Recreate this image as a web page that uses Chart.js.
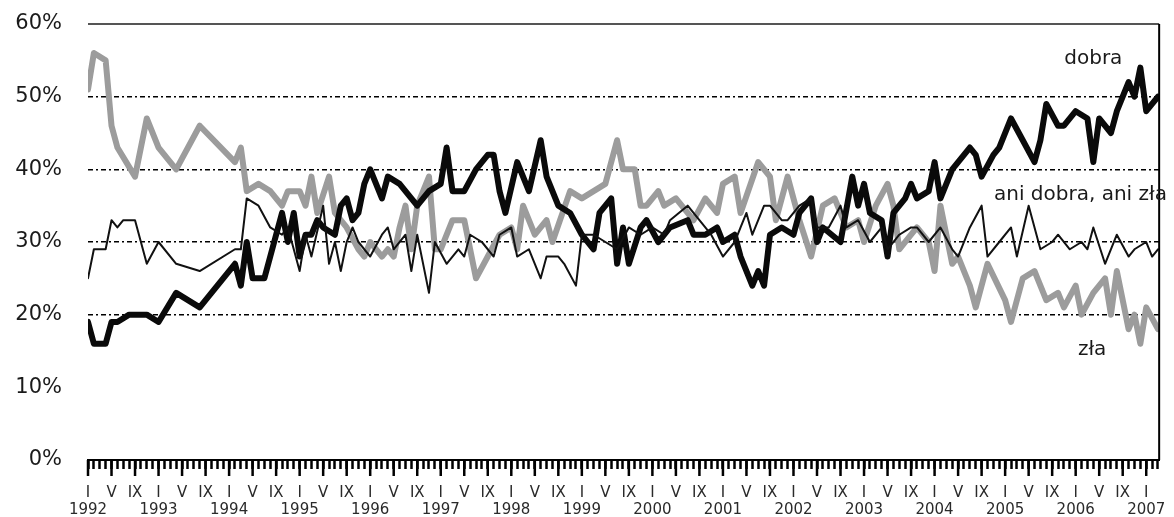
<!DOCTYPE html>
<html>
<head>
<meta charset="utf-8">
<script src="https://cdn.jsdelivr.net/npm/chart.js@4.4.1/dist/chart.umd.min.js"></script>
<style>
  html, body { margin: 0; padding: 0; background: #fff; }
  canvas { display: block; }
</style>
</head>
<body>
<canvas id="chart" width="1174" height="517"></canvas>
<script>
/* ── Data: [month index from I 1992, percent] ── */
const dobra = [
  [0,19],[1,16],[3,16],[4,19],[5,19],[7,20],[10,20],[12,19],[15,23],[19,21],[21,23],
  [25,27],[26,24],[27,30],[28,25],[30,25],[31,28],[33,34],[34,30],[35,34],[36,28],
  [37,31],[38,31],[39,33],[40,32],[42,31],[43,35],[44,36],[45,33],[46,34],[47,38],
  [48,40],[50,36],[51,39],[53,38],[55,36],[56,35],[58,37],[60,38],[61,43],[62,37],
  [64,37],[66,40],[68,42],[69,42],[70,37],[71,34],[73,41],[75,37],[77,44],[78,39],
  [80,35],[82,34],[84,31],[86,29],[87,34],[89,36],[90,27],[91,32],[92,27],[94,32],
  [95,33],[97,30],[99,32],[102,33],[103,31],[105,31],[107,32],[108,30],[110,31],
  [111,28],[113,24],[114,26],[115,24],[116,31],[118,32],[120,31],[121,34],[123,36],
  [124,30],[125,32],[128,30],[130,39],[131,35],[132,38],[133,34],[135,33],[136,28],
  [137,34],[139,36],[140,38],[141,36],[143,37],[144,41],[145,36],[147,40],[148,41],
  [150,43],[151,42],[152,39],[154,42],[155,43],[157,47],[159,44],[161,41],[162,44],
  [163,49],[165,46],[166,46],[168,48],[170,47],[171,41],[172,47],[174,45],[175,48],
  [176,50],[177,52],[178,50],[179,54],[180,48],[181,49],[182,50]
];

const aniDobraAniZla = [
  [0,25],[1,29],[3,29],[4,33],[5,32],[6,33],[8,33],[10,27],[12,30],[15,27],[19,26],
  [25,29],[26,29],[27,36],[29,35],[31,32],[33,31],[34,32],[36,26],[37,31],[38,28],
  [40,35],[41,27],[42,30],[43,26],[44,30],[45,32],[46,30],[48,28],[50,31],[51,32],
  [52,29],[54,31],[55,26],[56,31],[58,23],[59,30],[61,27],[63,29],[64,28],[65,31],
  [67,30],[69,28],[70,31],[72,32],[73,28],[75,29],[77,25],[78,28],[80,28],[81,27],
  [83,24],[84,31],[86,31],[88,30],[90,29],[92,32],[94,31],[96,32],[98,31],[99,33],
  [102,35],[104,33],[106,31],[108,28],[110,30],[111,32],[112,34],[113,31],[115,35],
  [116,35],[118,33],[119,33],[121,35],[123,36],[124,32],[126,32],[128,35],[129,32],
  [131,33],[133,30],[135,32],[136,29],[138,31],[140,32],[141,32],[143,30],[145,32],
  [147,29],[148,28],[150,32],[152,35],[153,28],[155,30],[157,32],[158,28],[160,35],
  [162,29],[164,30],[165,31],[167,29],[169,30],[170,29],[171,32],[173,27],[175,31],
  [177,28],[178,29],[180,30],[181,28],[182,29]
];

const zla = [
  [0,51],[1,56],[3,55],[4,46],[5,43],[8,39],[10,47],[12,43],[15,40],[19,46],[25,41],
  [26,43],[27,37],[29,38],[31,37],[33,35],[34,37],[36,37],[37,35],[38,39],[39,34],
  [41,39],[42,34],[44,32],[46,29],[47,28],[48,30],[50,28],[51,29],[52,28],[53,32],
  [54,35],[55,29],[56,35],[58,39],[59,29],[60,29],[62,33],[64,33],[66,25],[68,28],
  [70,31],[72,32],[73,29],[74,35],[76,31],[78,33],[79,30],[82,37],[84,36],[86,37],
  [88,38],[90,44],[91,40],[93,40],[94,35],[95,35],[97,37],[98,35],[100,36],[102,34],
  [103,33],[105,36],[107,34],[108,38],[110,39],[111,34],[114,41],[116,39],[117,33],
  [119,39],[121,33],[123,28],[125,35],[127,36],[129,32],[131,33],[132,30],[134,35],
  [136,38],[137,35],[138,29],[140,31],[141,32],[143,30],[144,26],[145,35],[147,27],
  [148,28],[150,24],[151,21],[153,27],[156,22],[157,19],[159,25],[161,26],[163,22],
  [165,23],[166,21],[168,24],[169,20],[171,23],[173,25],[174,20],[175,26],[176,22],
  [177,18],[178,20],[179,16],[180,21],[182,18]
];

const yearLabels  = ["1992","1993","1994","1995","1996","1997","1998","1999",
                     "2000","2001","2002","2003","2004","2005","2006","2007"];
const romanLabels = ["I", "V", "IX"];
const yTicks      = [0, 10, 20, 30, 40, 50, 60];
const gridValues  = [20, 30, 40, 50];

const lastMonth = 182;
const tickMonths = [];
for (let m = 0; m <= lastMonth; m++) tickMonths.push(m);

const toXY = pairs => pairs.map(([x, y]) => ({ x, y }));

function monthLabel(v) {
  const mi = v % 12;
  if (mi === 0) return [romanLabels[0], yearLabels[v / 12] || ""];
  if (mi === 4) return romanLabels[1];
  if (mi === 8) return romanLabels[2];
  return "";
}

const FONT = "'DejaVu Sans', 'Liberation Sans', sans-serif";

/* ── Frame, long ticks and series names ── */
const framePlugin = {
  id: "frame",
  afterDatasetsDraw(chart) {
    const { ctx, chartArea: a, scales: { x, y } } = chart;
    ctx.save();
    // top line at 60%
    ctx.strokeStyle = "#555";
    ctx.lineWidth = 2;
    ctx.beginPath();
    ctx.moveTo(a.left, y.getPixelForValue(60));
    ctx.lineTo(a.right, y.getPixelForValue(60));
    ctx.stroke();
    // right border
    ctx.strokeStyle = "#000";
    ctx.beginPath();
    ctx.moveTo(a.right, y.getPixelForValue(60));
    ctx.lineTo(a.right, a.bottom);
    ctx.stroke();
    // longer ticks under I / V / IX
    ctx.lineWidth = 2.5;
    tickMonths.filter(m => m % 4 === 0).forEach(m => {
      const px = x.getPixelForValue(m);
      ctx.beginPath();
      ctx.moveTo(px, a.bottom);
      ctx.lineTo(px, a.bottom + 16);
      ctx.stroke();
    });
    ctx.restore();
  }
};

const seriesNames = [
  { text: "dobra",              x: 171,   y: 55.2, align: "center" },
  { text: "ani dobra, ani zła", x: 154.1, y: 36.5, align: "left" },
  { text: "zła",                x: 170.8, y: 15.2, align: "center" },
];

const namesPlugin = {
  id: "names",
  afterDatasetsDraw(chart) {
    const { ctx, scales: { x, y } } = chart;
    ctx.save();
    ctx.font = "20px " + FONT;
    ctx.fillStyle = "#1a1a1a";
    ctx.textBaseline = "middle";
    seriesNames.forEach(n => {
      ctx.textAlign = n.align;
      ctx.fillText(n.text, x.getPixelForValue(n.x), y.getPixelForValue(n.y));
    });
    ctx.restore();
  }
};

/* ── Chart ── */
new Chart(document.getElementById("chart").getContext("2d"), {
  type: "line",
  data: {
    datasets: [
      { label: "ani dobra, ani zła", data: toXY(aniDobraAniZla), borderColor: "#111", borderWidth: 2, order: 0 },
      { label: "dobra",              data: toXY(dobra),          borderColor: "#0a0a0a", borderWidth: 6, order: 1 },
      { label: "zła",                data: toXY(zla),            borderColor: "#9c9c9c", borderWidth: 6, order: 2 },
    ]
  },
  options: {
    responsive: false,
    animation: false,
    layout: { padding: { top: 24, right: 14, left: 0, bottom: 0 } },
    elements: {
      point: { radius: 0, hoverRadius: 0 },
      line: { tension: 0, borderJoinStyle: "round", borderCapStyle: "round", fill: false }
    },
    plugins: { legend: { display: false }, tooltip: { enabled: false } },
    scales: {
      x: {
        type: "linear",
        min: 0,
        max: 182.2,
        afterBuildTicks: s => { s.ticks = tickMonths.map(v => ({ value: v })); },
        afterFit: s => { s.height = 57; },
        ticks: {
          autoSkip: false,
          maxRotation: 0,
          padding: 16,
          color: "#2a2a2a",
          font: { family: FONT, size: 15, lineHeight: 1.1 },
          callback: v => monthLabel(v)
        },
        grid: { drawOnChartArea: false, tickLength: 9, tickWidth: 2.5, tickColor: "#000" },
        border: { color: "#000", width: 2 }
      },
      y: {
        min: 0,
        max: 60,
        afterBuildTicks: s => { s.ticks = yTicks.map(v => ({ value: v })); },
        afterFit: s => { s.width = 88; s.paddingTop = 0; s.paddingBottom = 0; },
        ticks: {
          padding: 26,
          color: "#1a1a1a",
          font: { family: FONT, size: 21 },
          callback: v => v + "%"
        },
        grid: {
          drawTicks: false,
          lineWidth: 1.5,
          color: c => gridValues.includes(c.tick && c.tick.value) ? "#000" : "rgba(0,0,0,0)"
        },
        border: { display: false, dash: [5, 3, 2, 3] }
      }
    }
  },
  plugins: [framePlugin, namesPlugin]
});
</script>
</body>
</html>
